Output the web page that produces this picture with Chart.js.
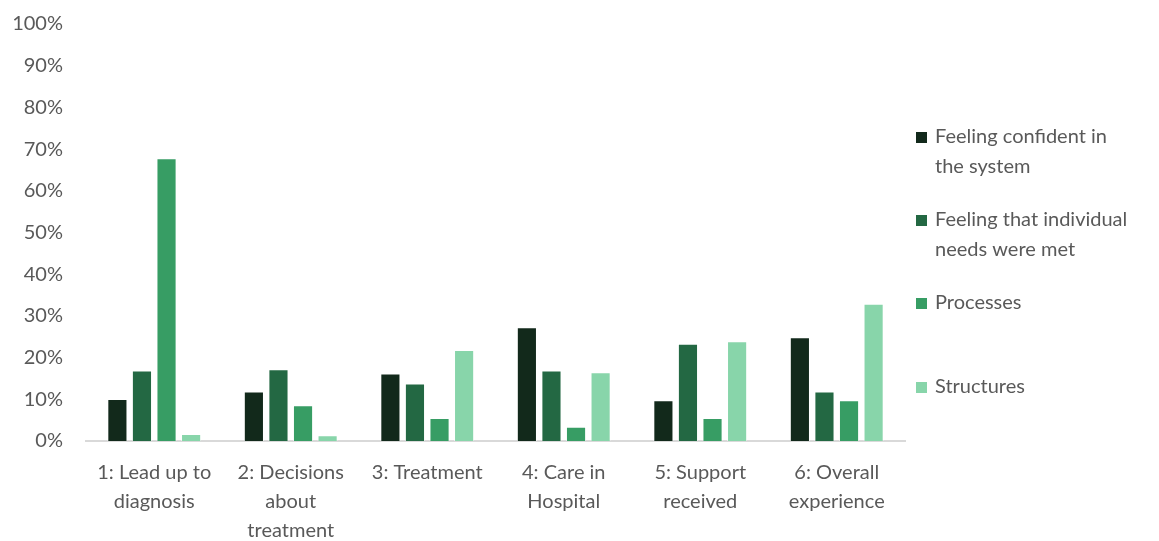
<!DOCTYPE html>
<html>
<head>
<meta charset="utf-8">
<script src="https://cdn.jsdelivr.net/npm/chart.js@4"></script>
<style>
  html, body { margin: 0; padding: 0; background: #fff; }
  #wrap { width: 1159px; height: 541px; }
</style>
</head>
<body>
<div id="wrap"><canvas id="chart_exp"></canvas></div>
<script>
const categories = [
    ['1: Lead up to', 'diagnosis'],
    ['2: Decisions', 'about', 'treatment'],
    ['3: Treatment'],
    ['4: Care in', 'Hospital'],
    ['5: Support', 'received'],
    ['6: Overall', 'experience'],
];

const seriesNames = [
    ['Feeling confident in', 'the system'],
    ['Feeling that individual', 'needs were met'],
    ['Processes'],
    ['Structures'],
];

const confident = [10.1, 11.9, 16.2, 27.3, 9.8, 24.9];
const needsMet = [16.9, 17.2, 13.8, 16.9, 23.3, 11.9];
const processes = [67.8, 8.6, 5.5, 3.4, 5.5, 9.8];
const structures = [1.7, 1.4, 21.8, 16.5, 23.9, 32.9];

const colours = ['#12291b', '#236843', '#379d64', '#88d5aa'];
const FONT = 'Lato, "Open Sans", sans-serif';
const GREY = '#595959';

const seriesValues = [confident, needsMet, processes, structures];

// legend drawn by hand on the right, items spread down the height
const sideLegend = {
    id: 'sideLegend',
    afterDraw(chart) {
        const ctx = chart.ctx;
        const tops = [137, 220, 303, 387];
        ctx.save();
        ctx.font = '20px ' + FONT;
        ctx.textBaseline = 'middle';
        ctx.textAlign = 'left';
        seriesNames.forEach((lines, i) => {
            ctx.fillStyle = colours[i];
            ctx.fillRect(916, tops[i] - 5, 11, 11);
            ctx.fillStyle = GREY;
            lines.forEach((ln, j) => ctx.fillText(ln, 935, tops[i] + j * 30));
        });
        ctx.restore();
    }
};

const data = {
    labels: categories,
    datasets: seriesValues.map((vals, i) => ({
        label: seriesNames[i].join(' '),
        data: vals,
        backgroundColor: colours[i],
        borderColor: 'rgba(255,255,255,0.6)',
        borderWidth: 1,
        categoryPercentage: 0.72,
        barPercentage: 0.82,
    }))
};

const config = {
    type: 'bar',
    data: data,
    plugins: [sideLegend],
    options: {
        responsive: false,
        animation: false,
        layout: { padding: { top: 24, right: 254, left: 0, bottom: 0 } },
        plugins: {
            legend: { display: false },
            tooltip: { enabled: false }
        },
        scales: {
            x: {
                grid: { display: false, drawTicks: false },
                border: { color: '#d9d9d9', width: 2 },
                ticks: {
                    color: GREY,
                    font: { family: FONT, size: 20, lineHeight: 1.45 },
                    padding: 17,
                    maxRotation: 0,
                    autoSkip: false
                },
                afterFit(scale) { scale.height = 100; }
            },
            y: {
                min: 0,
                max: 100,
                grid: { display: false, drawTicks: false },
                border: { display: false },
                ticks: {
                    stepSize: 10,
                    color: GREY,
                    font: { family: FONT, size: 20 },
                    padding: 23,
                    callback: v => v + '%'
                },
                afterFit(scale) {
                    scale.width = 86;
                    scale.paddingTop = 0;
                    scale.paddingBottom = 0;
                }
            }
        }
    }
};

const canvas = document.getElementById('chart_exp');
canvas.width = 1159;
canvas.height = 541;
const myChart = new Chart(canvas, config);
</script>
</body>
</html>
